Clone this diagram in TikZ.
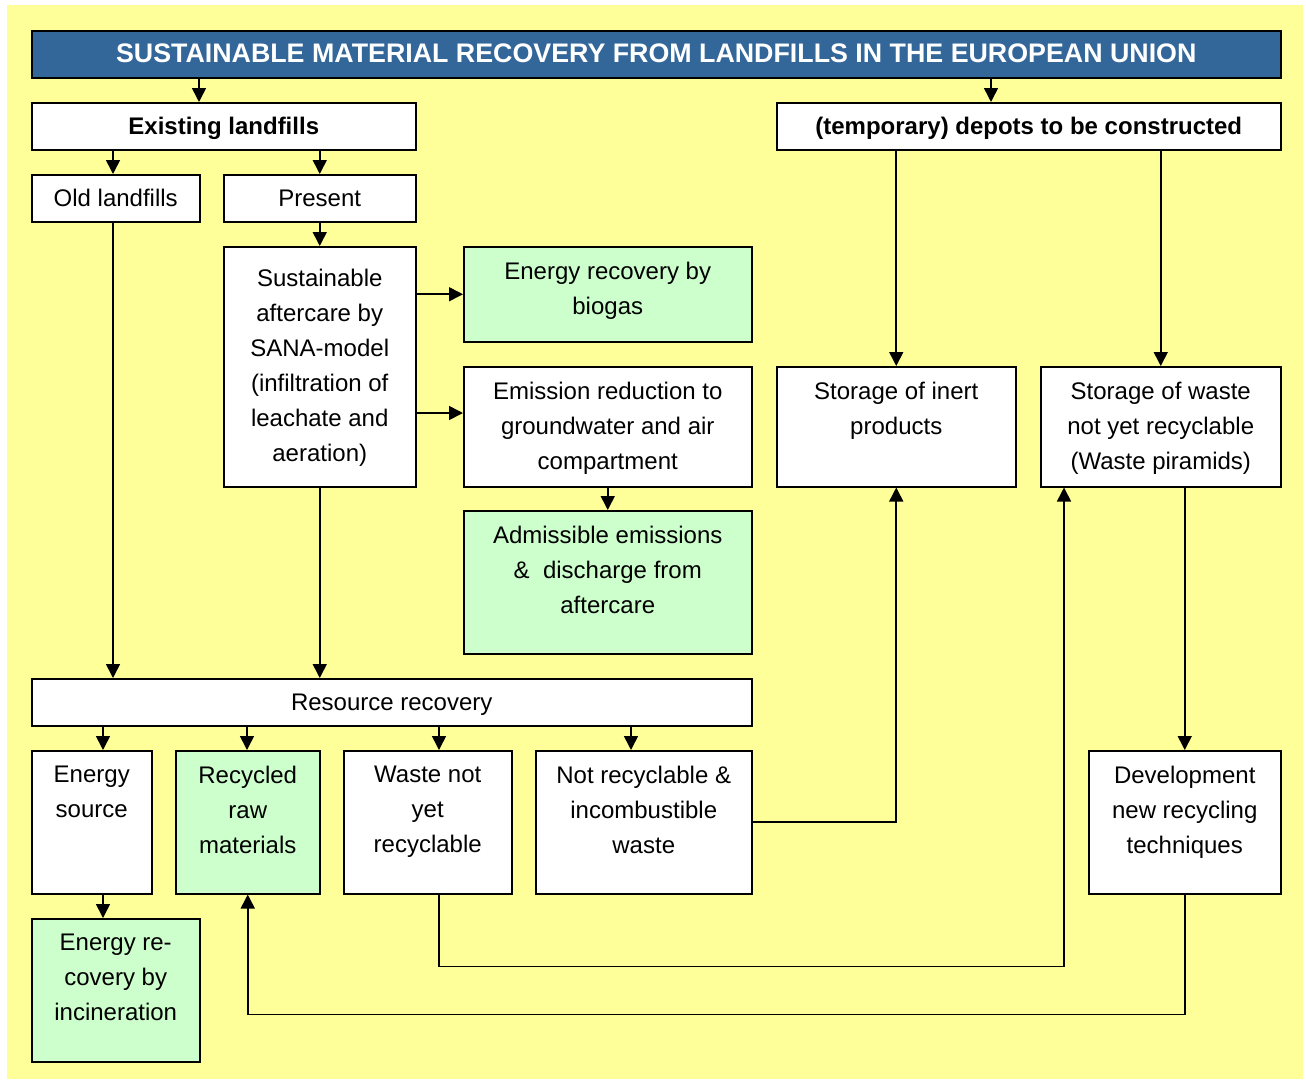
\documentclass[tikz,border=0pt]{standalone}
\usepackage{fontspec}
\setmainfont{Liberation Sans}
\usetikzlibrary{arrows.meta}

\definecolor{paper}{HTML}{FFFF99}
\definecolor{titleblue}{HTML}{336699}
\definecolor{mint}{HTML}{CCFFCC}

\def\bodyfont{\fontsize{24}{35}\selectfont}
\def\titlefont{\fontsize{26.8}{35}\selectfont\bfseries}

\begin{document}
\begin{tikzpicture}[x=1pt,y=-1pt,
  box/.style={draw, line width=1.5pt, fill=white, inner sep=0pt, anchor=north west},
  greenbox/.style={box, fill=mint},
  txt/.style={anchor=north, align=center, inner sep=0pt, yshift=-7.5pt,
    font=\bodyfont, execute at begin node=\strut},
  lines/.style={txt, yshift=-8.5pt},
  arr/.style={line width=1.6pt, -{Triangle[length=14pt,width=14pt]}}]

 \useasboundingbox (0,0) rectangle (1306,1079);
 \fill[paper] (7,5) rectangle (1303,1079);

 %Title and first level
 \node[box, fill=titleblue, minimum width=1249pt, minimum height=47pt,
   label={[txt, text=white, font=\titlefont]north:{SUSTAINABLE MATERIAL RECOVERY FROM LANDFILLS IN THE EUROPEAN UNION}}]
   (title) at (31,30) {};
 \node[box, minimum width=384pt, minimum height=47pt,
   label={[txt, font=\bodyfont\bfseries]north:{Existing landfills}}] (exist) at (31,102) {};
 \node[box, minimum width=504pt, minimum height=47pt,
   label={[txt, font=\bodyfont\bfseries]north:{(temporary) depots to be constructed}}] (depot) at (776,102) {};

 %Existing landfills
 \node[box, minimum width=168pt, minimum height=47pt,
   label={[txt]north:{Old landfills}}] (old) at (31,174) {};
 \node[box, minimum width=192pt, minimum height=47pt,
   label={[txt]north:{Present}}] (present) at (223,174) {};
 \node[box, minimum width=192pt, minimum height=240pt,
   label={[lines, yshift=-7pt]north:{Sustainable\\aftercare by\\SANA-model\\(infiltration of\\leachate and\\aeration)}}]
   (sust) at (223,246) {};
 \node[greenbox, minimum width=288pt, minimum height=95pt,
   label={[lines]north:{Energy recovery by\\biogas}}] (biogas) at (463,246) {};
 \node[box, minimum width=288pt, minimum height=120pt,
   label={[lines]north:{Emission reduction to\\groundwater and air\\compartment}}] (emis) at (463,366) {};
 \node[greenbox, minimum width=288pt, minimum height=143pt,
   label={[lines]north:{Admissible emissions\\\&~ discharge from\\aftercare}}] (adm) at (463,510) {};

 %Depots
 \node[box, minimum width=239pt, minimum height=120pt,
   label={[lines]north:{Storage of inert\\products}}] (inert) at (776,366) {};
 \node[box, minimum width=240pt, minimum height=120pt,
   label={[lines]north:{Storage of waste\\not yet recyclable\\(Waste piramids)}}] (swaste) at (1040,366) {};

 %Resource recovery
 \node[box, minimum width=720pt, minimum height=47pt,
   label={[txt]north:{Resource recovery}}] (res) at (31,678) {};
 \node[box, minimum width=120pt, minimum height=143pt,
   label={[lines]north:{Energy\\source}}] (esrc) at (31,750) {};
 \node[greenbox, minimum width=144pt, minimum height=143pt,
   label={[lines]north:{Recycled\\raw\\materials}}] (recyc) at (175,750) {};
 \node[box, minimum width=168pt, minimum height=143pt,
   label={[lines]north:{Waste not\\yet\\recyclable}}] (wnot) at (343,750) {};
 \node[box, minimum width=216pt, minimum height=143pt,
   label={[lines]north:{Not recyclable \&\\incombustible\\waste}}] (notrec) at (535,750) {};
 \node[box, minimum width=192pt, minimum height=143pt,
   label={[lines]north:{Development\\new recycling\\techniques}}] (devel) at (1088,750) {};
 \node[greenbox, minimum width=168pt, minimum height=143pt,
   label={[lines]north:{Energy re-\\covery by\\incineration}}] (incin) at (31,918) {};

 %Arrows
 \draw[arr] (title.south -| 199,0) -- (exist.north -| 199,0);
 \draw[arr] (title.south -| 991,0) -- (depot.north -| 991,0);
 \draw[arr] (exist.south -| 113,0) -- (old.north -| 113,0);
 \draw[arr] (exist.south -| present.north) -- (present.north);
 \draw[arr] (present) -- (sust);
 \draw[arr] (sust.east |- biogas.west) -- (biogas.west);
 \draw[arr] (sust.east |- 0,413) -- (emis.west |- 0,413);
 \draw[arr] (emis) -- (adm);
 \draw[arr] (depot.south -| inert.north) -- (inert.north);
 \draw[arr] (depot.south -| swaste.north) -- (swaste.north);
 \draw[arr] (old.south -| 113,0) -- (res.north -| 113,0);
 \draw[arr] (sust.south) -- (sust.south |- res.north);
 \foreach \x/\n in {103/esrc, 247/recyc, 439/wnot, 631/notrec}
   \draw[arr] (res.south -| \x,0) -- (\n.north -| \x,0);
 \draw[arr] (esrc.south -| 103,0) -- (incin.north -| 103,0);

 %Feedback lines
 \draw[arr] (notrec.east) -| (inert.south);
 \draw[arr] (wnot.south -| 439,0) -- ++(0,72) -| (swaste.south -| 1064,0);
 \draw[arr] (swaste.south -| devel.north) -- (devel.north);
 \draw[arr] (devel.south) -- ++(0,120) -| (recyc.south);

\end{tikzpicture}
\end{document}
